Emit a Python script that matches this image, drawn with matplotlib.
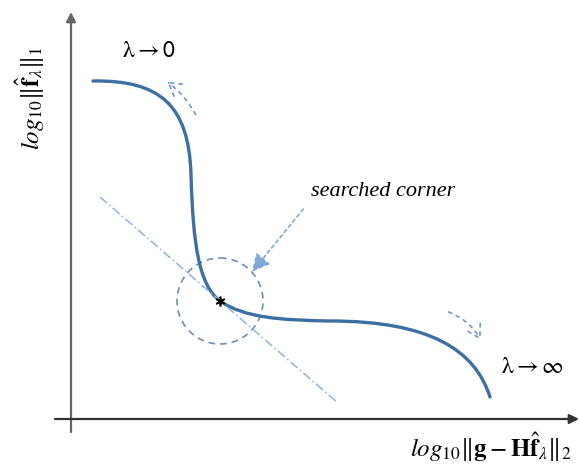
import numpy as np
import matplotlib
matplotlib.use('Agg')
import matplotlib.pyplot as plt
from matplotlib.patches import Circle, FancyArrowPatch, PathPatch
from matplotlib.path import Path

plt.rcParams['mathtext.fontset'] = 'stix'

# L-curve sketch as cubic Bezier pieces (pixel units, y downwards):
# start, then (control, control, end) for each piece
curve_x = [93, 160, 189, 191, 193, 199, 220, 245, 280, 330, 430, 475, 490]
curve_y = [81, 80, 105, 175, 245, 285, 301, 318, 320, 321, 321, 350, 397]

corner = (220, 301)
corner_radius = 43
tangent_x = [100, 338]
tangent_y = [197, 403]

fig = plt.figure(figsize=(5.8, 4.67), dpi=100)
ax = fig.add_axes([0, 0, 1, 1])
ax.set_xlim(0, 580)
ax.set_ylim(467, 0)
ax.axis('off')

# axes arrows
ax.annotate('', xy=(71, 12), xytext=(71, 432),
            arrowprops=dict(arrowstyle='-|>', color='#666666', lw=1.6,
                            mutation_scale=14, shrinkA=0, shrinkB=0))
ax.annotate('', xy=(579, 419), xytext=(55, 419),
            arrowprops=dict(arrowstyle='-|>', color='#333333', lw=1.6,
                            mutation_scale=14, shrinkA=0, shrinkB=0))

# tangent line and corner circle
ax.plot(tangent_x, tangent_y, color='#8db4de', lw=1.1, linestyle=(0, (6, 2, 1, 2)))
ax.add_patch(Circle(corner, corner_radius, fill=False, edgecolor='#6f8fb3',
                    lw=1.2, linestyle=(0, (4, 3))))

# the curve
verts = list(zip(curve_x, curve_y))
codes = [Path.MOVETO] + [Path.CURVE4] * (len(verts) - 1)
ax.add_patch(PathPatch(Path(verts, codes), fill=False, edgecolor='#3d6fa3',
                       lw=2.4, capstyle='round'))
ax.plot(*corner, marker=(6, 2, 0), color='black', ms=7, mew=1.2)

# dashed arrows
ax.add_patch(FancyArrowPatch((197, 117), (165, 80), connectionstyle='arc3,rad=0.12',
                             arrowstyle='->,head_length=0.5,head_width=0.3',
                             mutation_scale=18, color='#6d97c6',
                             lw=1.2, linestyle=(0, (2, 3))))
ax.add_patch(FancyArrowPatch((446, 311), (482, 342), connectionstyle='arc3,rad=-0.2',
                             arrowstyle='->,head_length=0.5,head_width=0.3',
                             mutation_scale=18, color='#6d97c6',
                             lw=1.2, linestyle=(0, (2, 3))))
ax.add_patch(FancyArrowPatch((305, 207), (252, 272),
                             arrowstyle='-|>,head_length=0.6,head_width=0.3',
                             mutation_scale=18, color='#7fa9d8', shrinkB=0,
                             lw=1.2, linestyle=(0, (2, 2))))

# labels
ax.text(383, 191, 'searched corner', fontsize=16, style='italic',
        family='Liberation Serif', ha='center', va='center')
ax.text(149, 50, r'$\mathrm{\lambda} \rightarrow \mathsf{0}$', fontsize=17,
        ha='center', va='center')
ax.text(532, 366, r'$\mathrm{\lambda} \rightarrow \infty$', fontsize=17,
        ha='center', va='center')
ax.text(30, 98, r'$log_{10}\|\hat{\mathbf{f}}_{\lambda}\|_1$', fontsize=18,
        rotation=90, ha='center', va='center')
ax.text(491, 447, r'$log_{10}\|\mathbf{g}-\mathbf{H}\hat{\mathbf{f}}_{\lambda}\|_2$',
        fontsize=18, ha='center', va='center')

fig.savefig('out.png', dpi=100)
